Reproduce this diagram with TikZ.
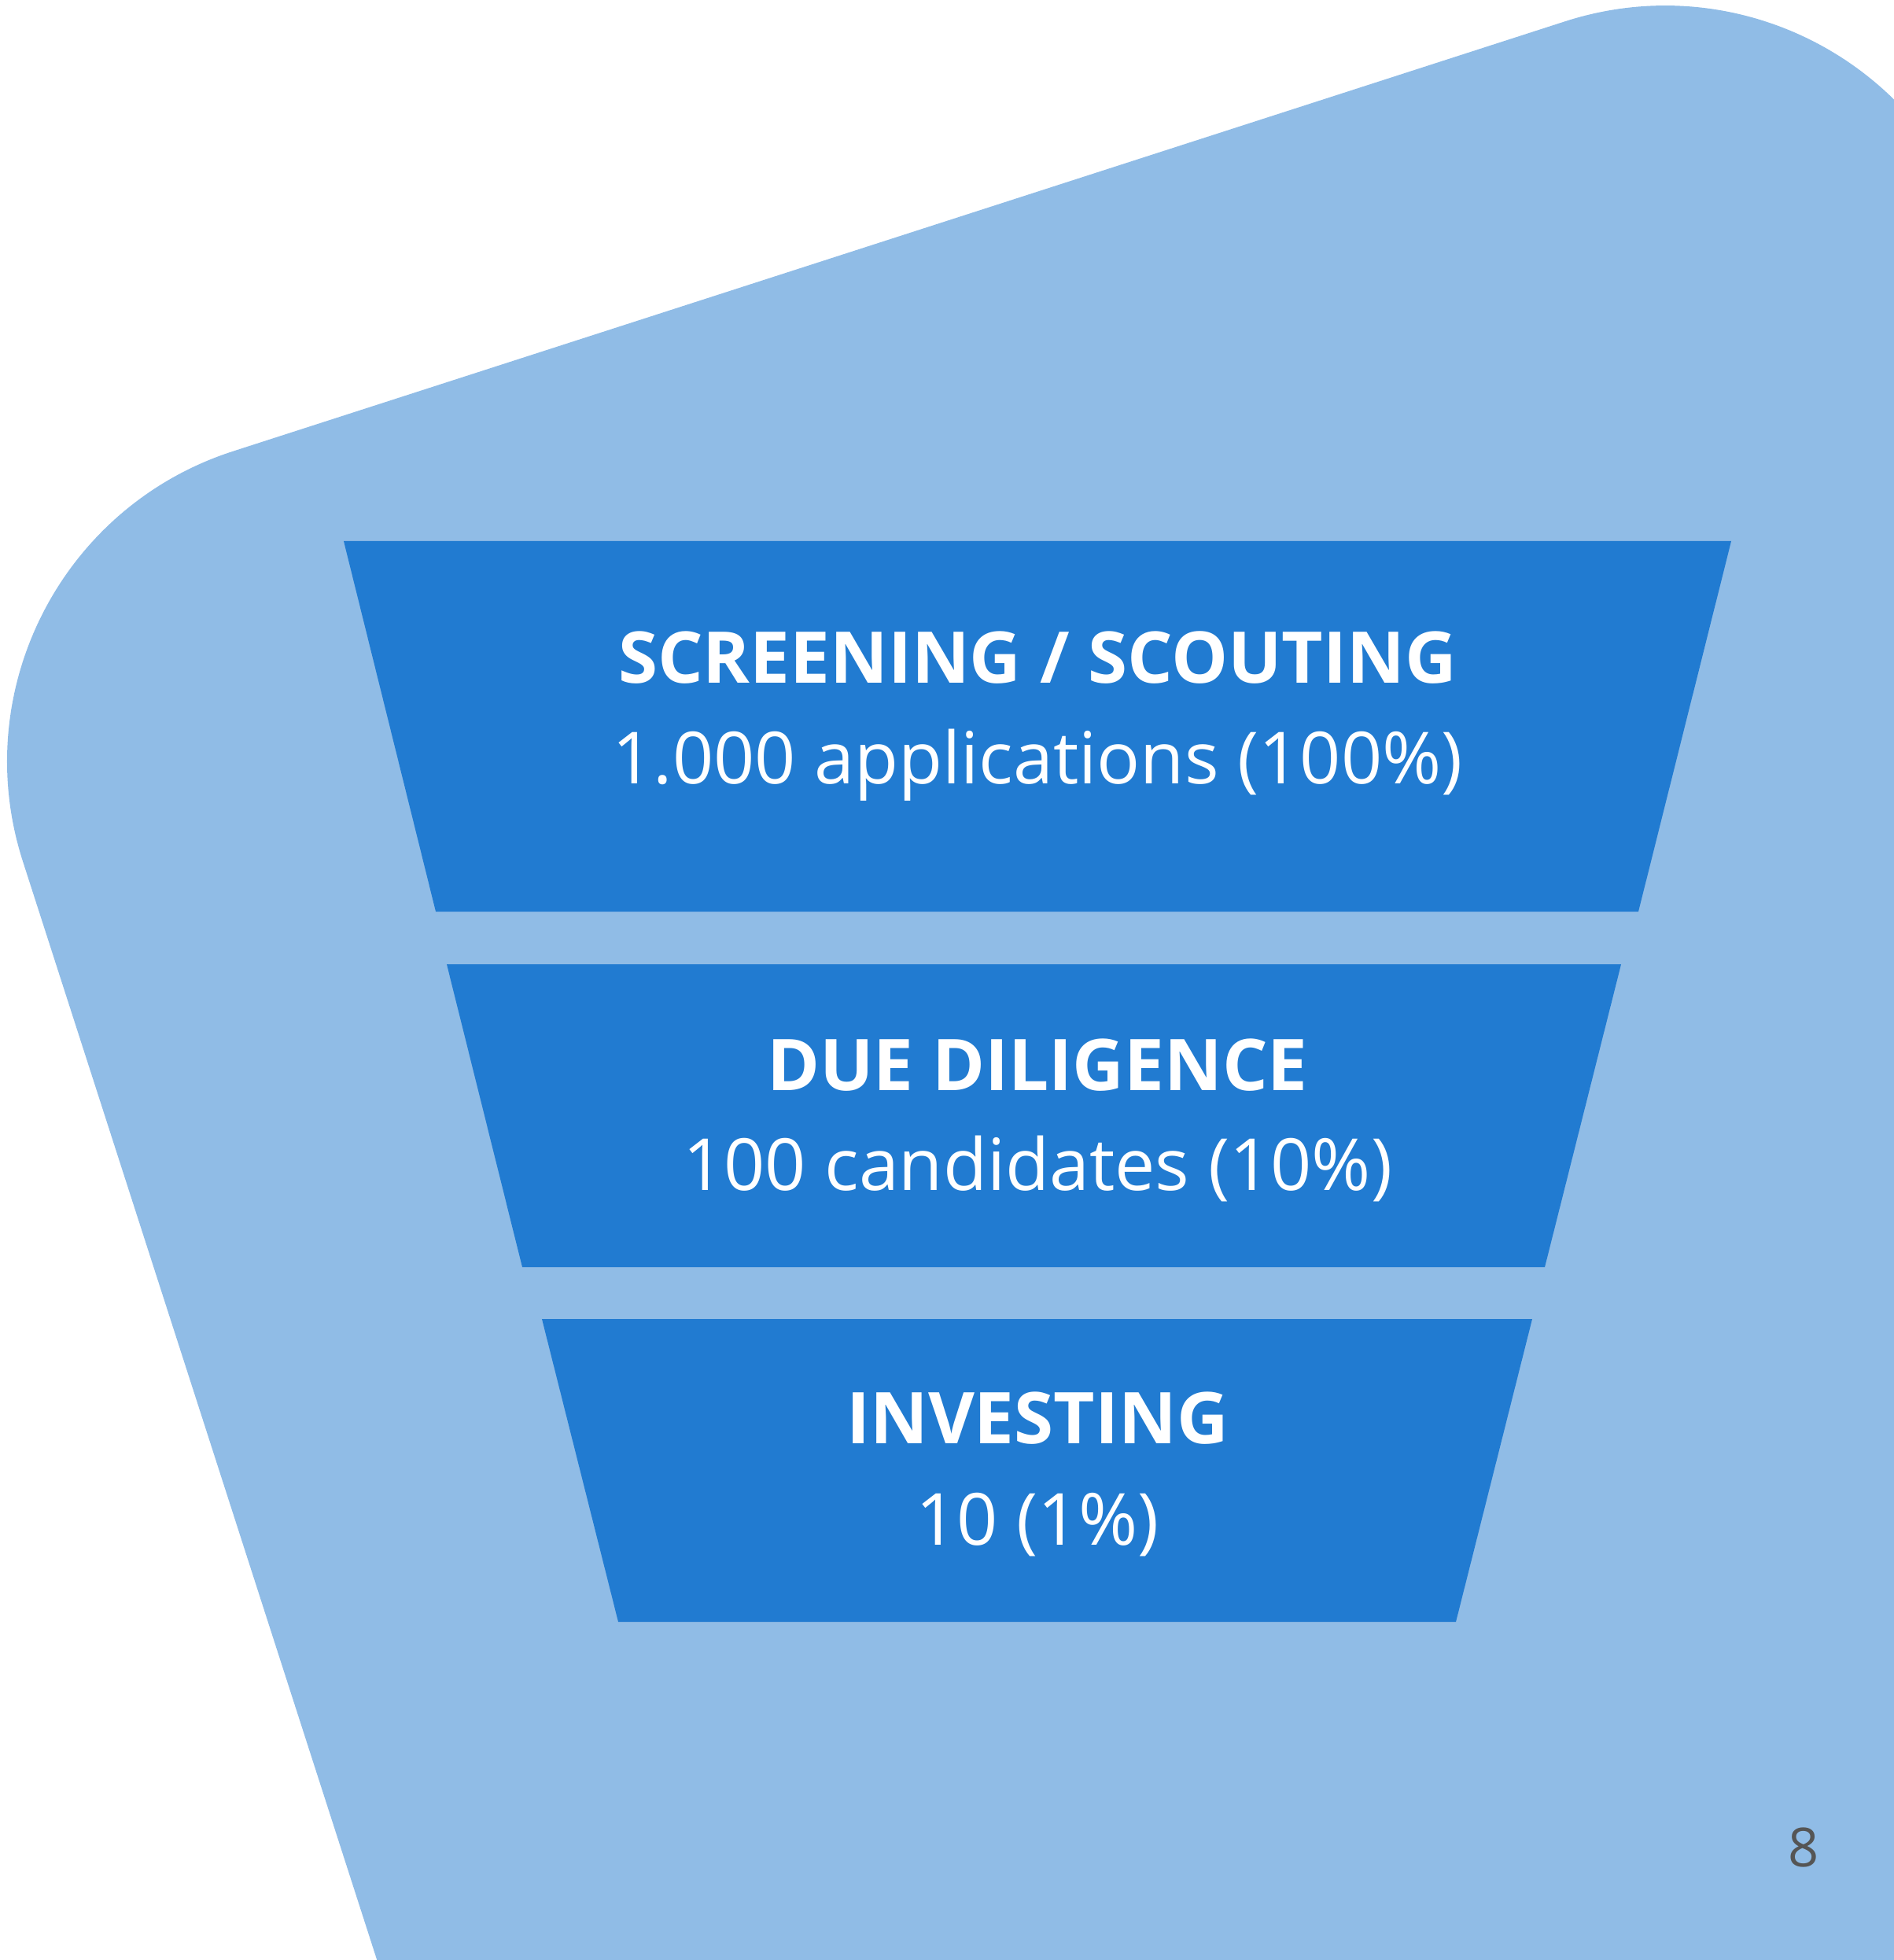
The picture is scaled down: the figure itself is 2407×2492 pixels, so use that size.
\documentclass[tikz,border=0pt]{standalone}
\usepackage{fontspec}
\setmainfont{Open Sans}
\usepackage{xcolor}
\definecolor{PaleBlue}{HTML}{90BCE6}
\definecolor{FunnelBlue}{HTML}{217BD1}
\definecolor{PageGray}{HTML}{555555}
\tikzset{
	stage/.style={fill=FunnelBlue},
	title/.style={anchor=base, text=white, font=\fontsize{25.8}{30}\selectfont\bfseries},
	count/.style={anchor=base, text=white, font=\fontsize{26}{30}\selectfont},
}

\begin{document}
\begin{tikzpicture}[x=0.01cm, y=-0.01cm]
		\useasboundingbox (0,0) rectangle (2407,2492);
		\clip (-20,-20) rectangle (2427,2512);
		
		% Background
		\fill[PaleBlue, rounded corners=4.14cm] (302,1942) -- (-98,701) -- (2384,-100) -- (3184,2382) -- (702,3183) -- cycle;
		
		% Funnel
		\fill[stage] (437,688) -- (2201,688) -- (2083,1159) -- (554,1159) -- cycle;
		\fill[stage] (568,1226) -- (2061,1226) -- (1964,1611) -- (664,1611) -- cycle;
		\fill[stage] (689,1677) -- (1948,1677) -- (1851,2062) -- (786,2062) -- cycle;
		
		% Nodes
		\node[title] (screening) at (1319,869) {SCREENING / SCOUTING};
		\node[count] (applications) at (1319,996) {1.000 applications (100\%)};
		\node[title] (diligence) at (1319,1386) {DUE DILIGENCE};
		\node[count] (candidates) at (1319,1513) {100 candidates (10\%)};
		\node[title] (investing) at (1319,1835) {INVESTING};
		\node[count] (invested) at (1319,1964) {10 (1\%)};
		\node[anchor=base, text=PageGray, font=\fontsize{19.5}{22}\selectfont] (pagenum) at (2293,2373) {8};
	\end{tikzpicture}
\end{document}
